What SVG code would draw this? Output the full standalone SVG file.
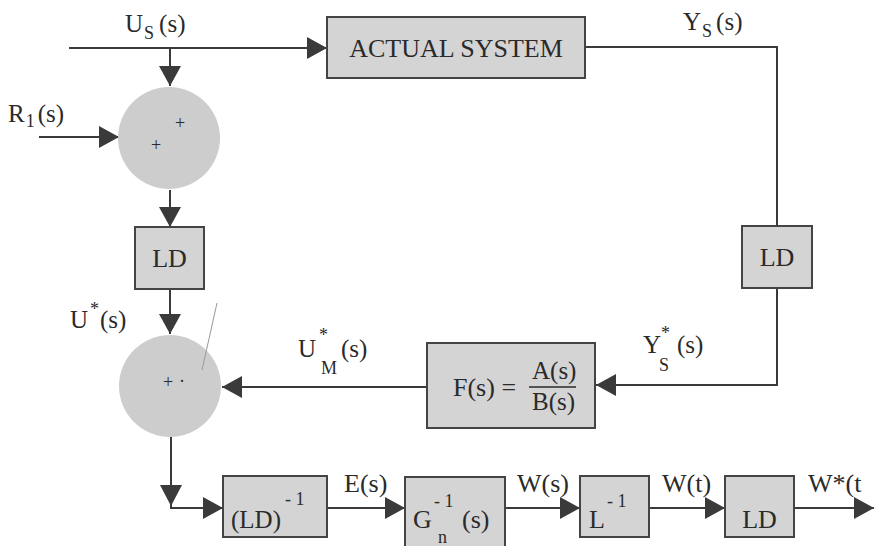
<svg xmlns="http://www.w3.org/2000/svg" width="874" height="546" viewBox="0 0 874 546">
<defs>
<marker id="ah" markerUnits="userSpaceOnUse" markerWidth="20" markerHeight="22" refX="20" refY="11" orient="auto">
<path d="M0,0 L20,11 L0,22 z" fill="#3a3a3a"/>
</marker>
<style>
.box{fill:#d4d4d4;stroke:#444;stroke-width:2}
.sum{fill:#cdcdcd;stroke:none}
.ln{fill:none;stroke:#3a3a3a;stroke-width:2}
.arr{marker-end:url(#ah)}
text{font-family:"Liberation Serif","DejaVu Serif",serif;fill:#2a2a2a;font-size:25px}
.sm{font-size:18px}
.bx{font-size:26px}
</style>
</defs>
<rect width="874" height="546" fill="#ffffff"/>

<g id="connectors">
<path class="ln arr" d="M69,48 H327"/>
<path class="ln arr" d="M170,48 V86"/>
<path class="ln arr" d="M39,137 H119"/>
<path class="ln arr" d="M170,190 V227"/>
<path class="ln arr" d="M170,289 V334"/>
<path class="ln arr" d="M171,437 V508 H223"/>
<polygon points="160,485 182,485 171,506" fill="#3a3a3a"/>
<path class="ln" d="M585,47 H777 V226"/>
<path class="ln arr" d="M777,288 V385 H596"/>
<path class="ln arr" d="M427,387 H222"/>
<path class="ln arr" d="M327,508 H405"/>
<path class="ln arr" d="M505,508 H580"/>
<path class="ln arr" d="M649,508 H725"/>
<path class="ln arr" d="M794,508 H874"/>
</g>

<g id="actual-system">
<rect class="box" x="327" y="17" width="258" height="61"/>
<text class="bx" x="456" y="57" text-anchor="middle">ACTUAL SYSTEM</text>
</g>

<g id="sum1">
<circle class="sum" cx="169" cy="138" r="51"/>
<text class="sm" x="180" y="129" text-anchor="middle">+</text>
<text class="sm" x="156" y="151" text-anchor="middle">+</text>
</g>

<g id="ld-left">
<rect class="box" x="135" y="227" width="69" height="62"/>
<text class="bx" x="169.5" y="267" text-anchor="middle">LD</text>
</g>

<g id="sum2">
<circle class="sum" cx="170" cy="386" r="51"/>
<text class="sm" x="168" y="388" text-anchor="middle">+</text>
<text class="sm" x="182" y="387" text-anchor="middle">·</text>
<path d="M217,303 L202,370" stroke="#999" stroke-width="1" fill="none"/>
</g>

<g id="ld-right">
<rect class="box" x="742" y="226" width="70" height="62"/>
<text class="bx" x="777" y="266" text-anchor="middle">LD</text>
</g>

<g id="filter">
<rect class="box" x="427" y="343" width="168" height="85"/>
<text class="bx" x="453" y="396">F(s) =</text>
<text x="532" y="379" font-size="24">A(s)</text>
<line x1="529" y1="387" x2="576" y2="387" stroke="#2a2a2a" stroke-width="1.5"/>
<text x="532" y="410" font-size="24">B(s)</text>
</g>

<g id="ld-inv">
<rect class="box" x="223" y="476" width="104" height="61"/>
<text x="231" y="528" font-size="24">(LD)<tspan class="sm" x="285" y="505">- 1</tspan></text>
</g>

<g id="g-inv">
<rect class="box" x="405" y="477" width="100" height="75"/>
<text class="bx" x="413" y="528">G<tspan class="sm" x="434" y="507">- 1</tspan><tspan class="bx" x="462" y="528">(s)</tspan><tspan class="sm" x="438" y="543">n</tspan></text>
</g>

<g id="l-inv">
<rect class="box" x="580" y="476" width="69" height="61"/>
<text class="bx" x="589" y="528">L<tspan class="sm" x="607" y="507">- 1</tspan></text>
</g>

<g id="ld-out">
<rect class="box" x="725" y="476" width="69" height="61"/>
<text class="bx" x="759.5" y="528" text-anchor="middle">LD</text>
</g>

<g id="labels">
<text x="125" y="32">U<tspan class="sm" dy="7" dx="1">S</tspan><tspan dy="-7" dx="5">(s)</tspan></text>
<text x="8" y="122">R<tspan class="sm" dy="5" dx="1">1</tspan><tspan dy="-5" dx="3">(s)</tspan></text>
<text x="683" y="30">Y<tspan class="sm" dy="7" dx="1">S</tspan><tspan dy="-7" dx="4">(s)</tspan></text>
<text x="70" y="328">U<tspan class="sm" x="90" y="315">*</tspan><tspan x="100" y="328">(s)</tspan></text>
<text x="298" y="357">U<tspan class="sm" x="319" y="341">*</tspan><tspan class="sm" x="321" y="374">M</tspan><tspan x="341" y="357">(s)</tspan></text>
<text x="643" y="353">Y<tspan class="sm" x="661" y="339">*</tspan><tspan class="sm" x="659" y="371">S</tspan><tspan x="677" y="353">(s)</tspan></text>
<text class="bx" x="344" y="492">E(s)</text>
<text class="bx" x="517" y="492">W(s)</text>
<text class="bx" x="662" y="492">W(t)</text>
<text class="bx" x="808" y="492">W*(t</text>
</g>
</svg>
